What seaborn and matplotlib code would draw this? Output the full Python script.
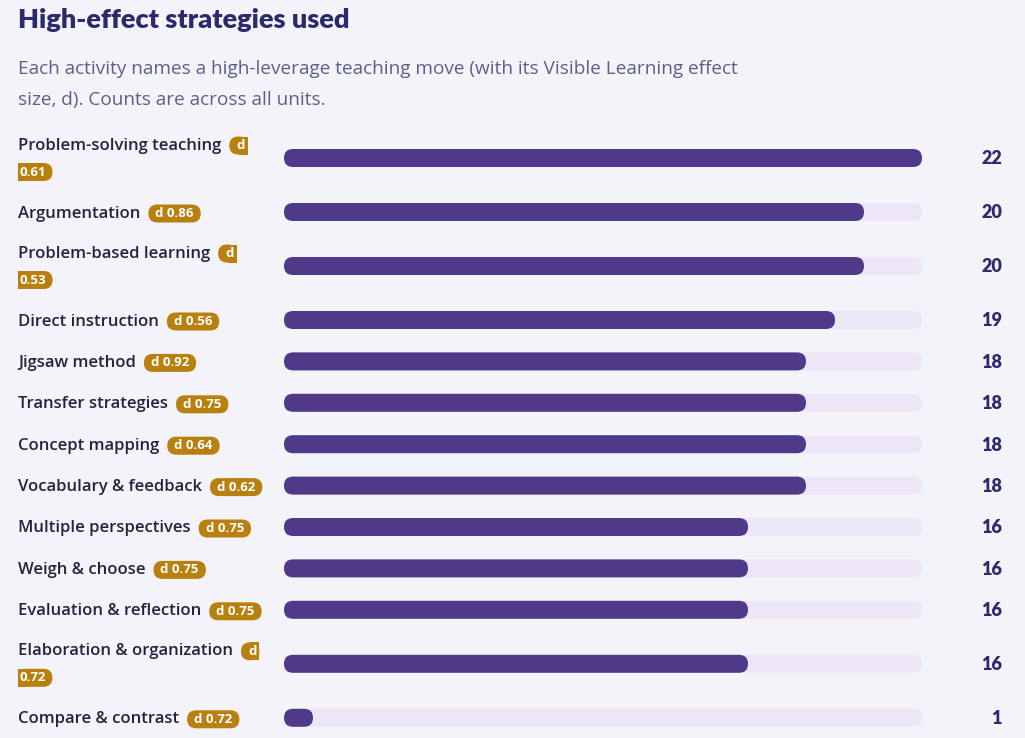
import matplotlib
matplotlib.use("Agg")
import matplotlib.pyplot as plt
from matplotlib.patches import FancyBboxPatch, Rectangle
import pandas as pd
import seaborn as sns

# data
strategies = ["Problem-solving teaching", "Argumentation", "Problem-based learning",
              "Direct instruction", "Jigsaw method", "Transfer strategies",
              "Concept mapping", "Vocabulary & feedback", "Multiple perspectives",
              "Weigh & choose", "Evaluation & reflection", "Elaboration & organization",
              "Compare & contrast"]
effect_sizes = [0.61, 0.86, 0.53, 0.56, 0.92, 0.75, 0.64, 0.62, 0.75, 0.75, 0.75, 0.72, 0.72]
counts = [22, 20, 20, 19, 18, 18, 18, 18, 16, 16, 16, 16, 1]

title = "High-effect strategies used"
subtitle = ["Each activity names a high-leverage teaching move (with its Visible Learning effect",
            "size, d). Counts are across all units."]

# layout, in pixels
W, H = 1025, 738
BG = "#f4f3fa"
FILL = "#4f3a8a"
TRACK = "#ece6f6"
GOLD = "#b8800e"
NAVY = "#2b2a6b"
INK = "#23233d"
SUB = "#5c6088"
bar_x0, bar_x1, bar_h = 284, 922, 18
# rows whose badge wraps onto a second line
wrapped = [True, False, True, False, False, False, False, False, False, False, False, True, False]

centers = []
y = 158
for i, w in enumerate(wrapped):
    if i:
        y += 41.4 + 12.6 * (wrapped[i - 1] + w)
    centers.append(y)

sns.set_theme(style="white")
plt.rcParams['font.family'] = ['Open Sans', 'DejaVu Sans']

fig = plt.figure(figsize=(W / 100, H / 100), dpi=100, facecolor=BG)
over = fig.add_axes([0, 0, 1, 1])
over.set_xlim(0, W)
over.set_ylim(H, 0)
over.axis('off')

ax = fig.add_axes([bar_x0 / W, 0, (bar_x1 - bar_x0) / W, 1])
df = pd.DataFrame({"strategy": strategies, "count": counts})
sns.barplot(data=df, x="count", y="strategy", order=strategies, color=FILL, ax=ax)
widths = [p.get_width() for p in ax.patches]
for p in list(ax.patches):
    p.remove()
vmax = max(counts)
ax.set_xlim(0, vmax)
ax.set_ylim(H, 0)
ax.axis('off')

# rounded bars: radius in x units, aspect converts it to pixels in y
rx = (bar_h / 2) * vmax / (bar_x1 - bar_x0)
asp = (bar_h / 2) / rx


def rounded_bar(w, yc, color):
    w = max(w, 2.1 * rx)
    ax.add_patch(FancyBboxPatch((0, yc - bar_h / 2), w, bar_h,
                                boxstyle=f"round,pad=0,rounding_size={rx * 0.999}",
                                mutation_aspect=asp, fc=color, ec='none'))


for w, yc in zip(widths, centers):
    rounded_bar(vmax, yc, TRACK)
    rounded_bar(w, yc, FILL)


def pill(x0, x1, yc, left=True, right=True, h=18):
    over.add_patch(FancyBboxPatch((x0, yc - h / 2), x1 - x0, h,
                                  boxstyle=f"round,pad=0,rounding_size={h / 2}",
                                  fc=GOLD, ec='none', zorder=2))
    if not left:
        over.add_patch(Rectangle((x0, yc - h / 2), h / 2, h, fc=GOLD, ec='none', zorder=2))
    if not right:
        over.add_patch(Rectangle((x1 - h / 2, yc - h / 2), h / 2, h, fc=GOLD, ec='none', zorder=2))


over.text(18, 20, title, fontsize=19.5, fontweight='heavy', color=NAVY, va='center',
          family=['Lato', 'DejaVu Sans'])
over.text(18, 69, subtitle[0], fontsize=13.7, color=SUB, va='center')
over.text(18, 100, subtitle[1], fontsize=13.7, color=SUB, va='center')

fig.canvas.draw()
r = fig.canvas.get_renderer()
badge_kw = dict(fontsize=9.5, fontweight='bold', color='white', va='center', zorder=3)

for name, d, c, yc, wr in zip(strategies, effect_sizes, counts, centers, wrapped):
    ty = (yc - 14 if wr else yc) + 1.5
    t = over.text(18, ty, name, fontsize=12, fontweight='semibold', color=INK, va='center', zorder=3)
    bx = t.get_window_extent(r).x1 + 8
    if wr:
        t1 = over.text(bx + 7, ty, "d", **badge_kw)
        pill(bx, t1.get_window_extent(r).x1 + 3, ty, right=False)
        t2 = over.text(19, yc + 14, f"{d:.2f}", **badge_kw)
        pill(18, t2.get_window_extent(r).x1 + 7, yc + 14, left=False)
    else:
        t1 = over.text(bx + 7, ty, f"d {d:.2f}", **badge_kw)
        pill(bx, t1.get_window_extent(r).x1 + 7, ty)
    over.text(1002, yc + 1, str(c), fontsize=13, fontweight='heavy', color=NAVY,
              ha='right', va='center', family=['Lato', 'DejaVu Sans'])

fig.savefig("out.png", dpi=100, facecolor=BG)
